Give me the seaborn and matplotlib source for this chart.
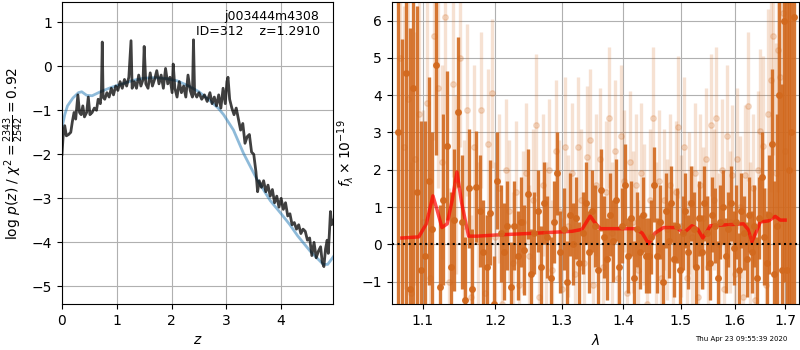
import numpy as np
import pandas as pd
import matplotlib
matplotlib.use('Agg')
import matplotlib.pyplot as plt
import matplotlib.ticker as mticker
import seaborn as sns

# p(z) of the fit, and the prior-ish smooth curve
pz_z = [0.00, 0.02, 0.05, 0.08, 0.12, 0.16, 0.19, 0.22, 0.25, 0.29, 0.32, 0.35, 0.38, 0.41,
        0.45, 0.48, 0.51, 0.55, 0.59, 0.63, 0.66, 0.70, 0.72, 0.735, 0.75, 0.78, 0.82, 0.86,
        0.90, 0.94, 0.98, 1.02, 1.06, 1.10, 1.14, 1.18, 1.22, 1.26, 1.28, 1.32, 1.36, 1.40,
        1.44, 1.48, 1.50, 1.53, 1.57, 1.61, 1.65, 1.69, 1.73, 1.77, 1.81, 1.85, 1.89, 1.93,
        1.97, 2.01, 2.03, 2.06, 2.10, 2.14, 2.18, 2.22, 2.26, 2.30, 2.34, 2.38, 2.40, 2.42,
        2.46, 2.50, 2.55, 2.60, 2.65, 2.70, 2.74, 2.78, 2.82, 2.86, 2.90, 2.94, 2.98, 3.01,
        3.03, 3.06, 3.10, 3.14, 3.18, 3.22, 3.26, 3.30, 3.34, 3.38, 3.42, 3.46, 3.50, 3.54,
        3.57, 3.60, 3.64, 3.68, 3.72, 3.76, 3.80, 3.84, 3.88, 3.92, 3.96, 4.00, 4.04, 4.08,
        4.12, 4.16, 4.20, 4.24, 4.28, 4.32, 4.36, 4.40, 4.44, 4.48, 4.52, 4.56, 4.60, 4.64,
        4.68, 4.72, 4.75, 4.78, 4.81, 4.84, 4.86, 4.88, 4.90, 4.92, 4.95]
pz_logp = [-2.0, -1.6, -1.35, -1.58, -1.55, -1.5, -1.25, -1.05, -1.2, -0.65, -1.05, -1.1, -0.9, -1.15,
           -1.05, -0.7, -1.1, -1.05, -0.95, -1.0, -0.75, -0.85, -0.55, 0.55, -0.7, -0.75, -0.6, -0.7,
           -0.5, -0.65, -0.45, -0.55, -0.35, -0.5, -0.3, -0.45, -0.25, 0.58, -0.5, -0.35, -0.5, -0.2,
           -0.45, -0.3, 0.45, -0.4, -0.5, -0.15, -0.45, -0.3, -0.1, -0.4, -0.2, -0.5, -0.05, -0.4,
           -0.25, -0.6, 0.05, -0.5, -0.7, -0.35, -0.6, -0.45, -0.7, -0.2, -0.55, -0.7, 0.6, -0.6,
           -0.7, -0.6, -0.75, -0.65, -0.8, -0.6, -0.85, -0.7, -0.9, -0.65, -0.95, -0.5, -0.85, -0.35,
           -0.25, -0.75, -0.95, -1.1, -0.95, -1.2, -1.45, -1.3, -1.75, -1.6, -1.55, -1.95, -2.0, -2.4,
           -2.85, -2.6, -2.75, -2.6, -2.85, -2.7, -2.95, -2.8, -3.1, -2.95, -3.2, -3.0, -3.25, -3.1,
           -3.4, -3.35, -3.6, -3.55, -3.7, -3.6, -3.8, -3.7, -3.75, -3.95, -3.9, -4.3, -4.0, -4.35,
           -4.2, -4.1, -4.45, -4.55, -4.15, -3.95, -4.25, -3.8, -3.3, -3.6, -3.5]

prior_z = [0.0, 0.05, 0.1, 0.2, 0.3, 0.36, 0.45, 0.55, 0.7, 0.9, 1.1, 1.3, 1.5, 1.7, 1.9, 2.1,
           2.33, 2.5, 2.7, 2.85, 2.95, 3.13, 3.31, 3.55, 3.8, 4.0, 4.16, 4.3, 4.53, 4.77, 4.85, 4.95]
prior_logp = [-1.4, -1.1, -0.9, -0.72, -0.6, -0.58, -0.66, -0.67, -0.58, -0.48, -0.4, -0.32, -0.27,
              -0.26, -0.28, -0.33, -0.46, -0.58, -0.78, -0.95, -1.1, -1.45, -1.97, -2.55, -3.05,
              -3.35, -3.6, -3.85, -4.2, -4.5, -4.5, -4.33]

# spectrum, first orient (dark)
dark_wave = [1.068, 1.073, 1.078, 1.083, 1.088, 1.093, 1.098, 1.103, 1.108, 1.113, 1.118, 1.123,
             1.128, 1.133, 1.138, 1.143, 1.148, 1.153, 1.158, 1.163, 1.168, 1.173, 1.178, 1.183,
             1.188, 1.193, 1.198, 1.203, 1.208, 1.213, 1.218, 1.223, 1.228, 1.233, 1.238, 1.243,
             1.248, 1.253, 1.258, 1.263, 1.268, 1.273, 1.278, 1.283, 1.288, 1.293, 1.298, 1.303,
             1.308, 1.313, 1.318, 1.323, 1.328, 1.333, 1.338, 1.343, 1.348, 1.353, 1.358, 1.363,
             1.368, 1.373, 1.378, 1.383, 1.388, 1.393, 1.398, 1.403, 1.408, 1.413, 1.418, 1.423,
             1.428, 1.433, 1.438, 1.443, 1.448, 1.453, 1.458, 1.463, 1.468, 1.473, 1.478, 1.483,
             1.488, 1.493, 1.498, 1.503, 1.508, 1.513, 1.518, 1.523, 1.528, 1.533, 1.538, 1.543,
             1.548, 1.553, 1.558, 1.563, 1.568, 1.573, 1.578, 1.583, 1.588, 1.593, 1.598, 1.603,
             1.608, 1.613, 1.618, 1.623, 1.628, 1.633, 1.638, 1.643, 1.648, 1.653, 1.658, 1.663,
             1.668, 1.673, 1.678, 1.683, 1.688, 1.693, 1.698, 1.703, 1.708, 1.713, 1.719]
dark_flux = [3.0, -2.5, 4.6, -1.2, 4.2, 1.4, -0.7, -0.3, 1.7, 0.4, 4.8, -1.15,
             1.2, 2.65, -0.6, 0.65, 3.55, 0.6, -1.5, 1.5, -1.2, 1.55, 0.9, -0.2,
             -0.6, 0.85, -1.6, 1.7, 0.3, -0.2, 0.5, -1.15, 0.5, -0.3, 0.6, -0.15,
             1.35, -0.8, 0.3, 0.9, -0.6, 1.1, 0.2, -0.9, 0.6, 1.9, -0.2, 0.4,
             -1.0, 0.8, 0.0, 0.7, -0.5, 0.3, 1.1, -0.2, 0.9, 0.5, -0.7, 1.45,
             0.2, -0.4, 0.8, 0.1, 1.2, -0.6, 0.5, 1.6, -0.3, 0.7, -0.9, 0.4,
             -0.2, 0.8, -0.3, -0.3, 0.2, 1.6, -0.3, 0.6, -1.0, 0.9, 0.1, 1.1,
             -0.4, 0.5, -0.7, 0.3, 0.9, -0.2, 1.1, 0.4, -0.6, 0.7, -0.2, 1.1,
             0.3, -0.5, 0.8, 0.5, -0.9, 0.6, 1.0, -0.3, 0.4, 1.1, -0.1, 0.6,
             -0.7, 0.9, 0.3, -0.4, 0.8, -0.2, 0.5, -0.9, 0.7, 1.8, 0.2, -0.5,
             0.8, 2.7, -0.8, 0.5, 4.0, -0.7, 6.0, -0.7, 2.0, 3.0, 6.1]
dark_err = [9.0, 8.0, 7.5, 7.0, 6.5, 5.0, 4.0, 3.6, 2.8, 2.6, 2.4, 2.2,
            2.3, 2.0, 2.0, 1.9, 2.0, 1.8, 1.7, 1.6, 1.6, 1.5, 1.5, 1.4,
            1.4, 1.4, 1.3, 1.3, 1.3, 1.3, 1.2, 1.2, 1.2, 1.2, 1.2, 1.2,
            1.2, 1.2, 1.1, 1.1, 1.1, 1.1, 1.1, 1.1, 1.1, 1.1, 1.1, 1.1,
            1.1, 1.1, 1.1, 1.1, 1.1, 1.1, 1.1, 1.1, 1.1, 1.1, 1.1, 1.1,
            1.1, 1.1, 1.1, 1.1, 1.1, 1.1, 1.0, 1.1, 1.0, 1.0, 1.0, 1.0,
            1.0, 1.0, 1.0, 1.0, 1.0, 1.0, 1.0, 1.0, 1.0, 1.0, 1.0, 1.0,
            1.0, 1.0, 1.0, 1.0, 1.0, 1.0, 1.0, 1.0, 1.0, 1.0, 1.0, 1.0,
            1.0, 1.0, 1.0, 1.0, 1.0, 1.0, 1.0, 1.0, 1.0, 1.0, 1.0, 1.0,
            1.0, 1.0, 1.0, 1.0, 1.0, 1.1, 1.1, 1.1, 1.1, 1.2, 1.3, 1.4,
            1.6, 2.0, 2.5, 3.0, 4.0, 5.0, 7.0, 8.0, 9.0, 9.0, 9.0]

# spectrum, second orient (light)
light_wave = [1.0705, 1.0755, 1.0805, 1.0855, 1.0905, 1.0955, 1.1005, 1.1055, 1.1105, 1.1155,
              1.1205, 1.1255, 1.1305, 1.1355, 1.1405, 1.1455, 1.1505, 1.1555, 1.1605, 1.1655,
              1.1705, 1.1755, 1.1805, 1.1855, 1.1905, 1.1955, 1.2005, 1.2055, 1.2105, 1.2155,
              1.2205, 1.2255, 1.2305, 1.2355, 1.2405, 1.2455, 1.2505, 1.2555, 1.2605, 1.2655,
              1.2705, 1.2755, 1.2805, 1.2855, 1.2905, 1.2955, 1.3005, 1.3055, 1.3105, 1.3155,
              1.3205, 1.3255, 1.3305, 1.3355, 1.3405, 1.3455, 1.3505, 1.3555, 1.3605, 1.3655,
              1.3705, 1.3755, 1.3805, 1.3855, 1.3905, 1.3955, 1.4005, 1.4055, 1.4105, 1.4155,
              1.4205, 1.4255, 1.4305, 1.4355, 1.4405, 1.4455, 1.4505, 1.4555, 1.4605, 1.4655,
              1.4705, 1.4755, 1.4805, 1.4855, 1.4905, 1.4955, 1.5005, 1.5055, 1.5105, 1.5155,
              1.5205, 1.5255, 1.5305, 1.5355, 1.5405, 1.5455, 1.5505, 1.5555, 1.5605, 1.5655,
              1.5705, 1.5755, 1.5805, 1.5855, 1.5905, 1.5955, 1.6005, 1.6055, 1.6105, 1.6155,
              1.6205, 1.6255, 1.6305, 1.6355, 1.6405, 1.6455, 1.6505, 1.6555, 1.6605, 1.6655,
              1.6705, 1.6755, 1.6805, 1.6855, 1.6905, 1.6955, 1.7005]
light_flux = [5.0, 2.6, 3.9, -1.3, 2.3, 3.5, 0.6, 3.8, -0.9, 5.6,
              4.2, 2.2, 6.1, -1.0, 4.3, 1.6, 5.0, 0.5, 3.6, -1.4,
              2.6, 0.1, 3.6, -1.3, 2.7, 4.05, 0.2, 1.5, -1.6, 2.0,
              0.9, -0.5, 1.4, -1.1, 0.6, 1.9, -0.3, 1.2, 3.2, -1.4,
              1.6, 0.3, 2.0, -0.7, 2.5, 0.9, -1.2, 2.6, 0.5, 1.9,
              -0.8, 2.6, 1.2, -0.5, 2.35, 2.8, -1.1, 1.6, 2.3, -0.6,
              1.4, 3.4, 0.3, 2.5, -0.9, 2.9, 1.7, -1.3, 2.2, 0.6,
              1.6, -0.7, 1.9, 0.8, -1.6, 1.2, 3.4, 0.3, 1.7, -0.9,
              1.2, 0.4, 1.6, -0.4, 1.4, 3.15, 0.5, 2.6, -0.9, 1.1,
              0.2, 1.9, -1.4, 1.6, 0.7, 2.3, -0.6, 3.2, 1.2, 3.4,
              0.0, 2.0, -1.2, 2.9, 0.6, 1.85, -0.8, 2.3, 1.0, -1.4,
              1.85, 3.7, 0.2, 1.5, -1.5, 2.0, 3.05, 2.65, -1.1, 3.5,
              4.4, 5.6, 1.9, 5.2, 4.5, 6.2, 2.5]
light_err = [4.0, 3.8, 3.6, 3.5, 3.4, 3.3, 3.0, 2.9, 2.8, 2.8,
             2.7, 2.6, 2.6, 2.5, 2.5, 2.4, 2.4, 2.3, 2.3, 2.2,
             2.2, 2.1, 2.1, 2.1, 2.0, 2.0, 2.0, 2.0, 2.0, 1.9,
             1.9, 1.9, 1.9, 1.9, 1.9, 1.9, 1.9, 1.9, 1.9, 1.9,
             1.9, 1.9, 1.9, 1.9, 1.9, 1.9, 1.9, 1.9, 1.9, 1.9,
             1.9, 1.9, 1.9, 1.9, 1.9, 1.9, 1.9, 1.9, 1.9, 1.9,
             1.9, 1.9, 1.9, 1.9, 1.9, 1.9, 1.9, 1.9, 1.9, 1.9,
             1.9, 1.9, 1.9, 1.9, 1.9, 1.9, 1.9, 1.9, 1.9, 1.9,
             1.9, 1.9, 1.9, 1.9, 1.9, 1.9, 1.9, 1.9, 1.9, 1.9,
             1.9, 1.9, 1.9, 1.9, 1.9, 1.9, 1.9, 1.9, 1.9, 1.9,
             1.9, 1.9, 1.9, 1.9, 1.9, 1.9, 1.9, 1.9, 1.9, 1.9,
             1.9, 2.0, 2.0, 2.0, 2.1, 2.1, 2.2, 2.4, 2.6, 2.8,
             3.0, 3.2, 3.5, 3.8, 4.0, 4.2, 4.5]

# best-fit model
model_wave = [1.073, 1.095, 1.105, 1.1138, 1.119, 1.1259, 1.133, 1.140, 1.1464, 1.153, 1.1625,
              1.175, 1.2004, 1.26, 1.3163, 1.332, 1.3453, 1.352, 1.3616, 1.39, 1.420, 1.432,
              1.4429, 1.454, 1.469, 1.4928, 1.5047, 1.52, 1.531, 1.540, 1.548, 1.554, 1.58,
              1.6172, 1.626, 1.6336, 1.641, 1.65, 1.6665, 1.68, 1.69, 1.70]
model_flux = [0.17, 0.2, 0.55, 1.3, 0.95, 0.45, 0.55, 1.2, 1.94, 1.1, 0.22,
              0.22, 0.25, 0.3, 0.35, 0.4, 0.76, 0.6, 0.42, 0.42, 0.42, 0.3,
              0.02, 0.3, 0.45, 0.45, 0.3, 0.5, 0.4, 0.17, 0.35, 0.5, 0.52,
              0.55, 0.4, 0.07, 0.3, 0.6, 0.63, 0.75, 0.65, 0.65]

lam_ticks = [1.1, 1.2, 1.3, 1.4, 1.5, 1.6, 1.7]
timestamp = 'Thu Apr 23 09:55:39 2020'

plt.rcParams['axes.grid'] = True
plt.rcParams['grid.color'] = '#b0b0b0'

pz = pd.DataFrame({'z': pz_z, 'logp': pz_logp})
prior = pd.DataFrame({'z': prior_z, 'logp': prior_logp})
model = pd.DataFrame({'wave': model_wave, 'flux': model_flux})

fig = plt.figure(figsize=(8, 3.5), dpi=100)
ax1 = fig.add_axes([0.0775, 0.1314, 0.339, 0.863])
ax2 = fig.add_axes([0.4896, 0.1314, 0.5094, 0.863])

# left: p(z)
sns.lineplot(data=prior, x='z', y='logp', ax=ax1, color='tab:blue', alpha=0.5, lw=2, sort=False)
sns.lineplot(data=pz, x='z', y='logp', ax=ax1, color='k', alpha=0.75, lw=2, sort=False)
ax1.set_xlim(0, 4.95)
ax1.set_ylim(-5.4, 1.46)
ax1.set_xticks([0, 1, 2, 3, 4])
ax1.set_yticks([-5, -4, -3, -2, -1, 0, 1])
ax1.set_xlabel('$z$')
ax1.set_ylabel(r'log $p(z)$ / $\chi^2=\frac{2343}{2542}=0.92$')
ax1.text(0.95, 0.975, 'j003444m4308\nID=312    z=1.2910', transform=ax1.transAxes,
         ha='right', va='top', fontsize=9)

# right: spectrum
orange = '#d2691e'
ax2.errorbar(light_wave, light_flux, yerr=light_err, fmt='o', color=orange, alpha=0.2,
             ms=4, elinewidth=2.4, capsize=0)
ax2.errorbar(dark_wave, dark_flux, yerr=dark_err, fmt='o', color=orange, alpha=0.9,
             ms=4, elinewidth=2.4, capsize=0)
sns.lineplot(data=model, x='wave', y='flux', ax=ax2, color='red', alpha=0.7, lw=2.5, sort=False)
ax2.axhline(0, color='k', ls=':', lw=1.5)
ax2.set_xscale('log')
ax2.set_xlim(1.060, 1.729)
ax2.set_ylim(-1.6, 6.5)
ax2.set_xticks(lam_ticks)
ax2.set_xticklabels([str(t) for t in lam_ticks])
ax2.xaxis.set_minor_locator(mticker.NullLocator())
ax2.set_yticks([-1, 0, 1, 2, 3, 4, 5, 6])
ax2.set_xlabel(r'$\lambda$')
ax2.set_ylabel(r'$f_\lambda\times10^{-19}$')

fig.text(0.984, 0.022, timestamp, ha='right', va='bottom', fontsize=5)

fig.savefig('out.png', dpi=100)
